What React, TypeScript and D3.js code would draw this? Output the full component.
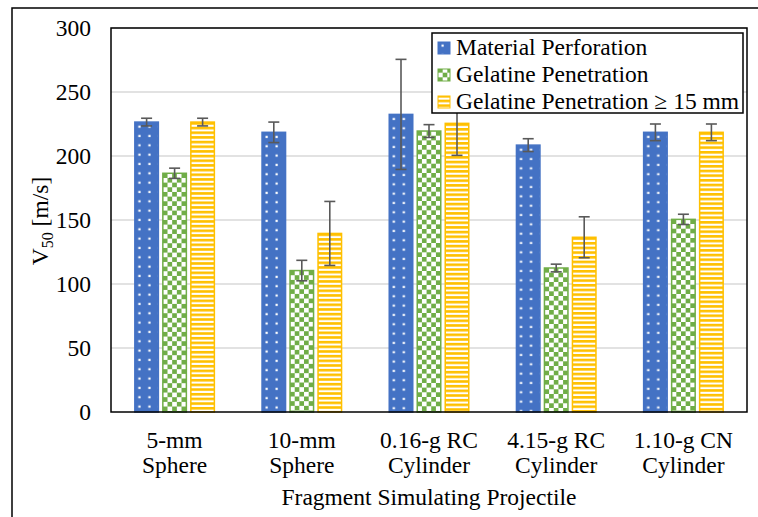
import React from "react";
import * as d3 from "d3";

const categories = [
  ["5-mm", "Sphere"],
  ["10-mm", "Sphere"],
  ["0.16-g RC", "Cylinder"],
  ["4.15-g RC", "Cylinder"],
  ["1.10-g CN", "Cylinder"],
];
const seriesNames = [
  "Material Perforation",
  "Gelatine Penetration",
  "Gelatine Penetration \u2265 15 mm",
];
const materialPerforation = [226.5, 218.5, 232.5, 208.5, 218.5];
const materialPerforationErr = [3, 8, 43, 5, 6.5];
const gelatinePenetration = [186.5, 110.5, 219.5, 112.5, 150.5];
const gelatinePenetrationErr = [4, 8, 5, 3, 4];
const gelatine15 = [226.5, 139.5, 225.5, 136.5, 218.5];
const gelatine15Err = [3, 25, 25, 16, 6.5];
const yTicks = [0, 50, 100, 150, 200, 250, 300];

const values = [materialPerforation, gelatinePenetration, gelatine15];
const errors = [materialPerforationErr, gelatinePenetrationErr, gelatine15Err];
const fills = ["url(#pBlue)", "url(#pGreen)", "url(#pYellow)"];
const strokes = ["#4472C4", "#70AD47", "#FFC000"];

const W = 758;
const H = 517;
const plot = { left: 111, right: 747, top: 28, bottom: 412 };
const FS = 23.5;
const serif: React.CSSProperties = { fontFamily: '"Liberation Serif", "Times New Roman", serif' };

export default function App() {
  const x0 = d3
    .scaleBand<number>()
    .domain(categories.map((_, i) => i))
    .range([plot.left, plot.right]);
  const bw = x0.bandwidth();
  const x1 = d3
    .scaleBand<number>()
    .domain([0, 1, 2])
    .range([bw / 2 - 42, bw / 2 + 42])
    .paddingInner(0.16)
    .paddingOuter(0.08);
  const y = d3.scaleLinear().domain([0, 300]).range([plot.bottom, plot.top]);

  return (
    <svg
      width={W}
      height={H}
      style={{ position: "absolute", left: 0, top: 0, background: "#fff" }}
    >
      <defs>
        <pattern id="pBlue" patternUnits="userSpaceOnUse" width={10} height={9.33}>
          <rect width={10} height={9.33} fill="#4472C4" />
          <rect x={3.5} y={3.5} width={2.2} height={2.2} fill="#fff" />
        </pattern>
        <pattern id="pGreen" patternUnits="userSpaceOnUse" width={9.33} height={9.33}>
          <rect width={9.33} height={9.33} fill="#fff" />
          <rect width={4.67} height={4.67} fill="#70AD47" />
          <rect x={4.67} y={4.67} width={4.67} height={4.67} fill="#70AD47" />
        </pattern>
        <pattern id="pYellow" patternUnits="userSpaceOnUse" width={8} height={4.67}>
          <rect width={8} height={4.67} fill="#fff" />
          <rect width={8} height={2.6} fill="#FFC000" />
        </pattern>
      </defs>

      {/* outer frame */}
      <rect x={12} y={8} width={W} height={H} fill="none" stroke="#000" strokeWidth={1.5} />

      {/* gridlines */}
      {yTicks.slice(1).map((t) => (
        <line
          key={t}
          x1={plot.left}
          x2={plot.right}
          y1={y(t)}
          y2={y(t)}
          stroke="#d9d9d9"
          strokeWidth={1.5}
        />
      ))}

      {/* bars, each in its own frame so the fill pattern starts at the bar's corner */}
      {categories.map((_, ci) =>
        values.map((vals, si) => {
          const bx = (x0(ci) ?? 0) + (x1(si) ?? 0);
          const v = vals[ci];
          return (
            <g key={`${ci}-${si}`} transform={`translate(${bx},${y(v)})`}>
              <rect
                x={0}
                y={0}
                width={x1.bandwidth()}
                height={y(0) - y(v)}
                fill={fills[si]}
                stroke={strokes[si]}
                strokeWidth={1.5}
              />
            </g>
          );
        })
      )}

      {/* error bars */}
      {categories.map((_, ci) =>
        values.map((vals, si) => {
          const cx = (x0(ci) ?? 0) + (x1(si) ?? 0) + x1.bandwidth() / 2;
          const v = vals[ci];
          const e = errors[si][ci];
          return (
            <g key={`e${ci}-${si}`} stroke="#595959" strokeWidth={1.6}>
              <line x1={cx} x2={cx} y1={y(v + e)} y2={y(v - e)} />
              <line x1={cx - 5.5} x2={cx + 5.5} y1={y(v + e)} y2={y(v + e)} />
              <line x1={cx - 5.5} x2={cx + 5.5} y1={y(v - e)} y2={y(v - e)} />
            </g>
          );
        })
      )}

      {/* plot area border */}
      <rect
        x={plot.left}
        y={plot.top}
        width={plot.right - plot.left}
        height={plot.bottom - plot.top}
        fill="none"
        stroke="#000"
        strokeWidth={1.5}
      />

      {/* y tick labels */}
      {yTicks.map((t) => (
        <text key={t} x={91} y={y(t)} dy="0.34em" textAnchor="end" fontSize={FS} style={serif}>
          {t}
        </text>
      ))}

      {/* y axis title */}
      <text
        transform={`translate(48,221) rotate(-90)`}
        textAnchor="middle"
        fontSize={FS}
        style={serif}
      >
        V<tspan fontSize={16} dy={5}>50</tspan>
        <tspan dy={-5}> [m/s]</tspan>
      </text>

      {/* category labels */}
      {categories.map((lines, ci) => {
        const cx = (x0(ci) ?? 0) + bw / 2;
        return (
          <text key={ci} textAnchor="middle" fontSize={FS} style={serif}>
            <tspan x={cx} y={448}>{lines[0]}</tspan>
            <tspan x={cx} y={473}>{lines[1]}</tspan>
          </text>
        );
      })}

      {/* x axis title */}
      <text x={(plot.left + plot.right) / 2} y={505} textAnchor="middle" fontSize={FS} style={serif}>
        Fragment Simulating Projectile
      </text>

      {/* legend */}
      <g>
        <rect x={432} y={33} width={311} height={80} fill="#fff" stroke="#000" strokeWidth={1.5} />
        {seriesNames.map((name, i) => (
          <g key={name} transform={`translate(438,${41 + i * 27})`}>
            <rect x={0} y={1} width={12} height={12} fill={fills[i]} stroke={strokes[i]} strokeWidth={1} />
            <text x={18} y={14} fontSize={FS} style={serif}>
              {name}
            </text>
          </g>
        ))}
      </g>
    </svg>
  );
}
